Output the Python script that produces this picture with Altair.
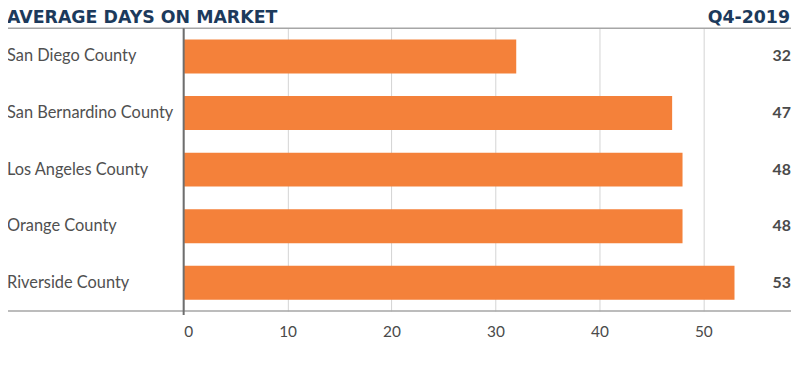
import altair as alt
import pandas as pd

counties = ["San Diego County", "San Bernardino County", "Los Angeles County", "Orange County", "Riverside County"]
days = [32, 47, 48, 48, 53]
x_ticks = [0, 10, 20, 30, 40, 50]
title_text = "AVERAGE DAYS ON MARKET"
period_text = "Q4-2019"

FONT = "Lato"
NAVY = "#1c3a5c"
GREY_TEXT = "#4a4a4a"
ORANGE = "#f4813a"

df = pd.DataFrame({"county": counties, "days": days})
one = pd.DataFrame({"k": [0]})

W, H = 576, 285
LEFT = 177

yscale = alt.Scale(domain=counties, paddingInner=0.4, paddingOuter=0.2)
xscale = alt.Scale(domain=[0, 55], nice=False)

bars = alt.Chart(df).mark_bar(color=ORANGE).encode(
    x=alt.X("days:Q", scale=xscale,
            axis=alt.Axis(values=x_ticks, grid=True, gridColor="#d4d4d4", gridWidth=1,
                          domain=False, ticks=False, labelFontSize=15.5, labelColor=GREY_TEXT,
                          labelFont=FONT, labelPadding=14, title=None)),
    y=alt.Y("county:N", scale=yscale, axis=None),
)

cat_labels = alt.Chart(df).mark_text(align="left", baseline="middle", font=FONT,
                                     fontSize=16.5, color="#505050").encode(
    x=alt.value(-178),
    y=alt.Y("county:N", scale=yscale, axis=None),
    text="county:N",
)

val_labels = alt.Chart(df).mark_text(align="right", baseline="middle", font=FONT,
                                     fontSize=16, fontWeight="bold", color=GREY_TEXT).encode(
    x=alt.value(612),
    y=alt.Y("county:N", scale=yscale, axis=None),
    text="days:Q",
)

top_line = alt.Chart(one).mark_rule(color="#a6a6a6", strokeWidth=1.5).encode(
    x=alt.value(-178), x2=alt.value(612), y=alt.value(0))
bottom_line = alt.Chart(one).mark_rule(color="#a6a6a6", strokeWidth=1.5).encode(
    x=alt.value(-178), x2=alt.value(612), y=alt.value(H))
axis_line = alt.Chart(one).mark_rule(color="#6e6e6e", strokeWidth=2).encode(
    x=alt.value(0), y=alt.value(0), y2=alt.value(H + 4))

title = alt.Chart(one).mark_text(align="left", baseline="alphabetic", font="DejaVu Sans",
                                 fontSize=17.5, fontWeight="bold", color=NAVY).encode(
    x=alt.value(-178), y=alt.value(-5), text=alt.value(title_text))
period = alt.Chart(one).mark_text(align="right", baseline="alphabetic", font="DejaVu Sans",
                                  fontSize=17.5, fontWeight="bold", color=NAVY).encode(
    x=alt.value(611), y=alt.value(-5), text=alt.value(period_text))

chart = alt.layer(bars, top_line, bottom_line, axis_line, cat_labels, val_labels, title, period).properties(
    width=W, height=H,
    autosize="none",
    padding={"left": LEFT, "top": 19, "right": 790 - LEFT - W, "bottom": 47},
).configure_view(stroke=None)

chart.save("out.html", embed_options={"renderer": "svg", "actions": False})
